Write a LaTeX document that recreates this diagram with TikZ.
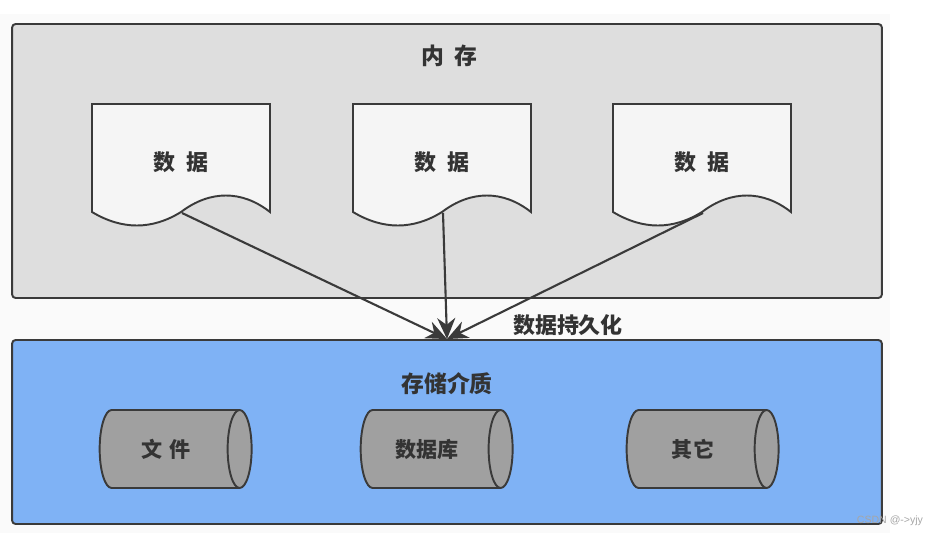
\documentclass[tikz,border=0pt]{standalone}
\usepackage{fontspec}
\setmainfont{Noto Sans CJK SC}
\newfontfamily\wmfont{Liberation Sans}
\usetikzlibrary{arrows.meta,shapes.geometric}

\definecolor{bgpaper}{HTML}{FAFAFA}
\definecolor{memgray}{HTML}{DEDEDE}
\definecolor{docwhite}{HTML}{F5F5F5}
\definecolor{storeblue}{HTML}{7FB2F5}
\definecolor{cylgray}{HTML}{A0A0A0}
\definecolor{edge}{HTML}{3A3A3A}
\definecolor{ink}{HTML}{333333}

\tikzset{
  panel/.style={draw=edge, line width=1.1pt, rounded corners=2pt, minimum width=17.4cm},
  label/.style={text=ink, font=\fontsize{12.5}{14}\selectfont\bfseries},
  title/.style={text=ink, font=\fontsize{13}{15}\selectfont\bfseries},
  doc/.style={draw=edge, line width=1.1pt, fill=docwhite},
  medium/.style={shape=cylinder, draw=edge, line width=1.1pt, fill=cylgray,
    minimum height=3.04cm, minimum width=1.56cm, aspect=0.75,
    text=ink, font=\fontsize{12}{14}\selectfont\bfseries},
  flow/.style={draw=edge, line width=1.2pt, -{Stealth[length=4.2mm, width=3.6mm]}}
}

\begin{document}
\begin{tikzpicture}[x=0.02cm, y=-0.02cm]
    \useasboundingbox (0,0) rectangle (937,537);
    \fill[bgpaper] (0,14) rectangle (890,533);

    % memory
    \node[panel, fill=memgray, minimum height=5.48cm] (mem) at (447,161) {};
    \node[title] (memtitle) at (449,56) {内\hspace{0.45em}存};

    \foreach \x/\n in {92/1, 353/2, 613/3} {
        \draw[doc] (\x,212) -- (\x,104) -- (\x+178,104) -- (\x+178,212)
            .. controls (\x+150,190) and (\x+118,190) .. (\x+89,212)
            .. controls (\x+60,230) and (\x+30,230) .. (\x,212) -- cycle;
        \node[label] (d\n) at (\x+89,162) {数\hspace{0.5em}据};
        \coordinate (b\n) at (\x+90,213);
    }

    % storage
    \node[panel, fill=storeblue, minimum height=3.68cm] (store) at (447,432) {};
    \node[title] (storetitle) at (447,384) {存储介质};

    \node[medium] (file) at (166,449) {文\hspace{0.3em}件};
    \node[medium] (db) at (427,449) {数据库};
    \node[medium] (other) at (693,449) {其它};

    \draw[flow] (b1) -- (store.north);
    \draw[flow] (b2) -- (store.north);
    \draw[flow] (b3) -- (store.north);
    \node[label] (persist) at (568,325) {数据持久化};

    \node[text=black!35, font=\wmfont\fontsize{6}{7}\selectfont] (mark) at (890,521) {CSDN @->yjy};
\end{tikzpicture}
\end{document}
